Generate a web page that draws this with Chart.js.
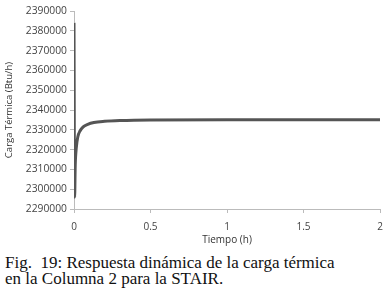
<!DOCTYPE html>
<html>
<head>
<meta charset="utf-8">
<script src="https://cdn.jsdelivr.net/npm/chart.js@4"></script>
<style>
  body { margin: 0; background: #fff; width: 388px; height: 298px; overflow: hidden; }
  #wrap { position: absolute; left: 0; top: 0; width: 388px; height: 250px; }
  #caption {
    position: absolute; left: 5px; top: 255px;
    font-family: "Liberation Serif", "DejaVu Serif", serif;
    font-size: 17px; line-height: 16px; color: #111; white-space: nowrap;
  }
</style>
</head>
<body>
<div id="wrap"><canvas id="chart" width="388" height="250"></canvas></div>
<div id="caption">Fig.&nbsp; 19: Respuesta dinámica de la carga térmica<br>en la Columna 2 para la STAIR.</div>
<script>
// tiempo (h) y carga térmica (Btu/h)
var tiempo = [0, 0.004, 0.008, 0.015, 0.025, 0.04, 0.06, 0.09, 0.13, 0.2, 0.3, 0.5, 1, 1.5, 2];
var carga = [2384000, 2296000, 2312000, 2321000, 2326500, 2329500, 2331500, 2332800, 2333700, 2334300, 2334700, 2335000, 2335100, 2335100, 2335100];
var xTicks = [0, 0.5, 1, 1.5, 2];

var puntos = tiempo.map(function (t, i) { return { x: t, y: carga[i] }; });

var ctx = document.getElementById("chart");
var chart = new Chart(ctx, {
  type: 'line',
  data: {
    datasets: [{
      label: 'Carga',
      data: puntos,
      borderColor: '#555555',
      borderWidth: 3,
      pointRadius: 0,
      fill: false,
      tension: 0.3,
      cubicInterpolationMode: 'monotone'
    }]
  },
  options: {
    responsive: false,
    animation: false,
    layout: { padding: { top: 11, right: 8, left: 0, bottom: 0 } },
    plugins: { legend: { display: false }, tooltip: { enabled: false } },
    scales: {
      x: {
        type: 'linear',
        min: 0,
        max: 2,
        afterBuildTicks: function (s) { s.ticks = xTicks.map(function (v) { return { value: v }; }); },
        ticks: { color: '#444', font: { family: 'Open Sans', size: 10 }, padding: 8, maxRotation: 0,
          callback: function (v) { return String(v); } },
        grid: { drawOnChartArea: false, tickLength: 4, color: '#bbbbbb' },
        border: { color: '#bbbbbb' },
        title: { display: true, text: 'Tiempo (h)', color: '#333', font: { family: 'Open Sans', size: 10 }, padding: { top: 0 } },
        afterFit: function (s) { s.height = 41; s.paddingRight = 0; s.paddingLeft = 0; }
      },
      y: {
        min: 2290000,
        max: 2390000,
        ticks: { stepSize: 10000, color: '#444', font: { family: 'Open Sans', size: 10.3 }, padding: 3,
          callback: function (v) { return String(v); } },
        grid: { drawOnChartArea: false, tickLength: 4, color: '#bbbbbb' },
        border: { color: '#bbbbbb' },
        title: { display: true, text: 'Carga Térmica (Btu/h)', color: '#333', font: { family: 'Open Sans', size: 9.5 }, padding: { bottom: 2 } },
        afterFit: function (s) { s.width = 74; s.paddingTop = 0; s.paddingBottom = 0; }
      }
    }
  }
});
</script>
</body>
</html>
